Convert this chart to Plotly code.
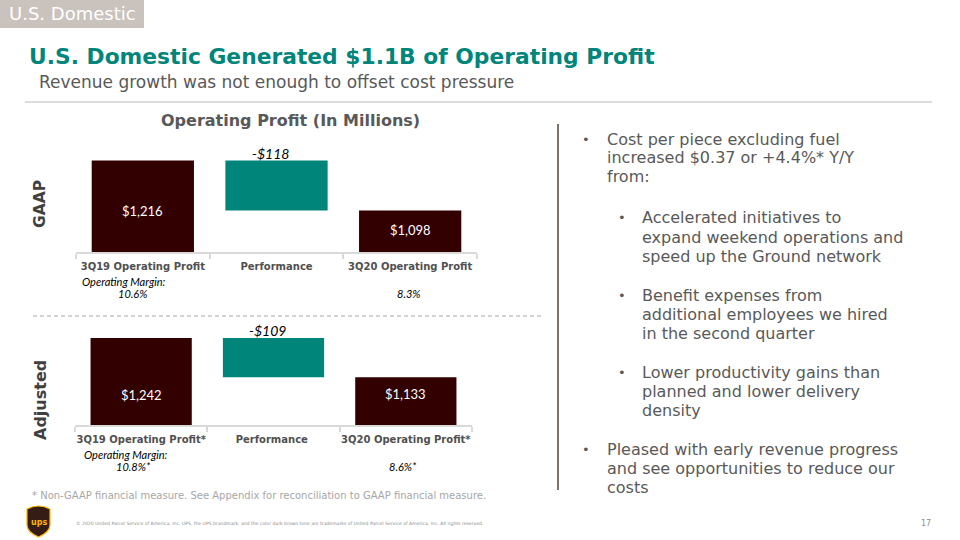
import plotly.graph_objects as go

# ---------------- data ----------------
gaap_categories = ["3Q19 Operating Profit", "Performance", "3Q20 Operating Profit"]
gaap_values = [1216, -118, 1098]          # start, change, end
gaap_labels = ["$1,216", "-$118", "$1,098"]
gaap_margins = ["10.6%", "", "8.3%"]

adj_categories = ["3Q19 Operating Profit*", "Performance ", "3Q20 Operating Profit*"]
adj_values = [1242, -109, 1133]
adj_labels = ["$1,242", "-$109", "$1,133"]
adj_margins = ["10.8%*", "", "8.6%*"]

right_lines = [
    # (level, is_first_line_of_bullet, text)
    (0, True, "Cost per piece excluding fuel"),
    (0, False, "increased $0.37 or +4.4%* Y/Y"),
    (0, False, "from:"),
    (1, True, "Accelerated initiatives to"),
    (1, False, "expand weekend operations and"),
    (1, False, "speed up the Ground network"),
    (1, True, "Benefit expenses from"),
    (1, False, "additional employees we hired"),
    (1, False, "in the second quarter"),
    (1, True, "Lower productivity gains than"),
    (1, False, "planned and lower delivery"),
    (1, False, "density"),
    (0, True, "Pleased with early revenue progress"),
    (0, False, "and see opportunities to reduce our"),
    (0, False, "costs"),
]
right_line_y = [139, 158, 177, 218, 237, 256, 295, 314, 333, 372, 391, 410, 449, 468, 487]

# vertical pixel positions of the in-bar value labels (start bar, end bar)
gaap_label_py = [211, 230]
adj_label_py = [395, 394]

W, H = 960, 540
BROWN = "#330000"
TEAL = "#00857B"
GRAY = "#595959"


def px(x):
    return x / W


def py(y):
    return 1 - y / H


def waterfall_parts(values):
    start, delta, end = values
    bases = [0, start + delta if delta < 0 else start, 0]
    heights = [start, abs(delta), end]
    colors = [BROWN, TEAL, BROWN]
    return bases, heights, colors


fig = go.Figure()

g_base, g_h, g_c = waterfall_parts(gaap_values)
fig.add_trace(go.Bar(x=gaap_categories, y=g_h, base=g_base, marker_color=g_c,
                     marker_line_width=0, xaxis="x", yaxis="y", hoverinfo="skip"))
a_base, a_h, a_c = waterfall_parts(adj_values)
fig.add_trace(go.Bar(x=adj_categories, y=a_h, base=a_base, marker_color=a_c,
                     marker_line_width=0, xaxis="x2", yaxis="y2", hoverinfo="skip"))

G_MIN, G_MAX = 1000, 1260
A_MIN, A_MAX = 1000, 1270

axis_common = dict(showgrid=False, zeroline=False, showline=True, linecolor="#D9D9D9",
                   linewidth=1.5, ticks="outside", tickson="boundaries", ticklen=5,
                   tickcolor="#D9D9D9", tickwidth=1.5, tickangle=0, automargin=False,
                   ticklabelstandoff=4,
                   tickfont=dict(family="DejaVu Sans", size=10, color="#505050", weight="bold"),
                   fixedrange=True)

fig.update_layout(
    width=W, height=H, margin=dict(l=0, r=0, t=0, b=0, pad=0, autoexpand=False),
    paper_bgcolor="white", plot_bgcolor="rgba(0,0,0,0)",
    showlegend=False, bargap=0.235,
    xaxis=dict(domain=[px(76), px(477)], anchor="y", **axis_common),
    yaxis=dict(domain=[py(252), py(142)], range=[G_MIN, G_MAX], visible=False, anchor="x"),
    xaxis2=dict(domain=[px(75), px(472)], anchor="y2", **axis_common),
    yaxis2=dict(domain=[py(425), py(328)], range=[A_MIN, A_MAX], visible=False, anchor="x2"),
)

ann = []
shapes = []


def text_at(x, y, text, font, xanchor="center", yanchor="middle", **kw):
    ann.append(dict(x=px(x), y=py(y), xref="paper", yref="paper", text=text, showarrow=False,
                    xanchor=xanchor, yanchor=yanchor, font=font, **kw))


# value labels
def add_labels(cats, values, labels, xref, yref, label_py):
    start, delta, end = values
    ann.append(dict(x=cats[1], y=start, xref=xref, yref=yref, text=labels[1], showarrow=False,
                    xanchor="center", yanchor="bottom", xshift=-6, yshift=-3,
                    font=dict(family="Lato", size=14, color="#000000", style="italic")))
    for i, ypix in zip([0, 2], label_py):
        ann.append(dict(x=cats[i], y=py(ypix), xref=xref, yref="paper", text=labels[i],
                        showarrow=False, xanchor="center", yanchor="middle",
                        font=dict(family="Lato", size=13, color="white")))


add_labels(gaap_categories, gaap_values, gaap_labels, "x", "y", gaap_label_py)
add_labels(adj_categories, adj_values, adj_labels, "x2", "y2", adj_label_py)

# operating margins
margin_font = dict(family="Lato", size=11, color="#000000", style="italic")
text_at(124, 281, "Operating Margin:", margin_font)
text_at(132, 293, gaap_margins[0], margin_font)
text_at(409, 293, gaap_margins[2], margin_font)
text_at(126, 454, "Operating Margin:", margin_font)
text_at(133, 466, adj_margins[0], margin_font)
text_at(403, 466, adj_margins[2], margin_font)

# header tag
shapes.append(dict(type="rect", xref="paper", yref="paper", x0=0, x1=px(144), y0=py(28), y1=1,
                   fillcolor="#C9C2BD", line_width=0, layer="below"))
text_at(7, 14, "U.S. Domestic", dict(family="DejaVu Sans", size=18, color="white"), xanchor="left")

# title / subtitle
text_at(27, 57, "U.S. Domestic Generated $1.1B of Operating Profit",
        dict(family="DejaVu Sans", size=21.8, color=TEAL, weight="bold"), xanchor="left")
text_at(37, 82, "Revenue growth was not enough to offset cost pressure",
        dict(family="DejaVu Sans", size=17, color=GRAY), xanchor="left")
shapes.append(dict(type="line", xref="paper", yref="paper", x0=px(25), x1=px(932),
                   y0=py(102), y1=py(102), line=dict(color="#D0D0D0", width=1.5)))

# chart title
text_at(290, 120, "Operating Profit (In Millions)",
        dict(family="DejaVu Sans", size=16, color=GRAY, weight="bold"))

# side labels
text_at(40, 204, "GAAP", dict(family="DejaVu Sans", size=15.5, color="#404040", weight="bold"),
        textangle=-90)
text_at(40, 400, "Adjusted", dict(family="DejaVu Sans", size=16, color="#404040", weight="bold"),
        textangle=-90)

# dashed separator
shapes.append(dict(type="line", xref="paper", yref="paper", x0=px(33), x1=px(541),
                   y0=py(316), y1=py(316), line=dict(color="#A6A6A6", width=1, dash="4px,3px")))

# vertical divider
shapes.append(dict(type="line", xref="paper", yref="paper", x0=px(558), x1=px(558),
                   y0=py(124), y1=py(490), line=dict(color="#7F7369", width=2)))

# right text
for (lvl, first, txt), yy in zip(right_lines, right_line_y):
    tx = 605 if lvl == 0 else 640
    bx = 586 if lvl == 0 else 622
    text_at(tx, yy, txt, dict(family="DejaVu Sans", size=16, color=GRAY), xanchor="left")
    if first:
        text_at(bx, yy, "•", dict(family="DejaVu Sans", size=13, color=GRAY))

# footnote
text_at(30, 495, "* Non-GAAP financial measure. See Appendix for reconciliation to GAAP financial measure.",
        dict(family="DejaVu Sans", size=10, color="#A6A6A6"), xanchor="left")

# copyright + page number
text_at(74, 523, "© 2020 United Parcel Service of America, Inc. UPS, the UPS brandmark, and the color dark brown tone are trademarks of United Parcel Service of America, Inc. All rights reserved.",
        dict(family="DejaVu Sans", size=4.55, color="#8C8C8C"), xanchor="left")
text_at(926, 523, "17", dict(family="DejaVu Sans", size=8, color="#8C8C8C"))

# UPS shield logo
shield = (f"M {px(27)},{py(509)} Q {px(38.5)},{py(503)} {px(50)},{py(509)} "
          f"L {px(50)},{py(525)} Q {px(50)},{py(532)} {px(38.5)},{py(537)} "
          f"Q {px(27)},{py(532)} {px(27)},{py(525)} Z")
shapes.append(dict(type="path", xref="paper", yref="paper", path=shield,
                   fillcolor="#351C15", line=dict(color="#FFB500", width=1.2)))
text_at(38.5, 522, "ups", dict(family="DejaVu Sans", size=8, color="#FFB500", weight="bold"))

fig.update_layout(annotations=ann, shapes=shapes)
fig.write_html("out.html", config={"displayModeBar": False},
               post_script="document.body.style.margin='0';")
